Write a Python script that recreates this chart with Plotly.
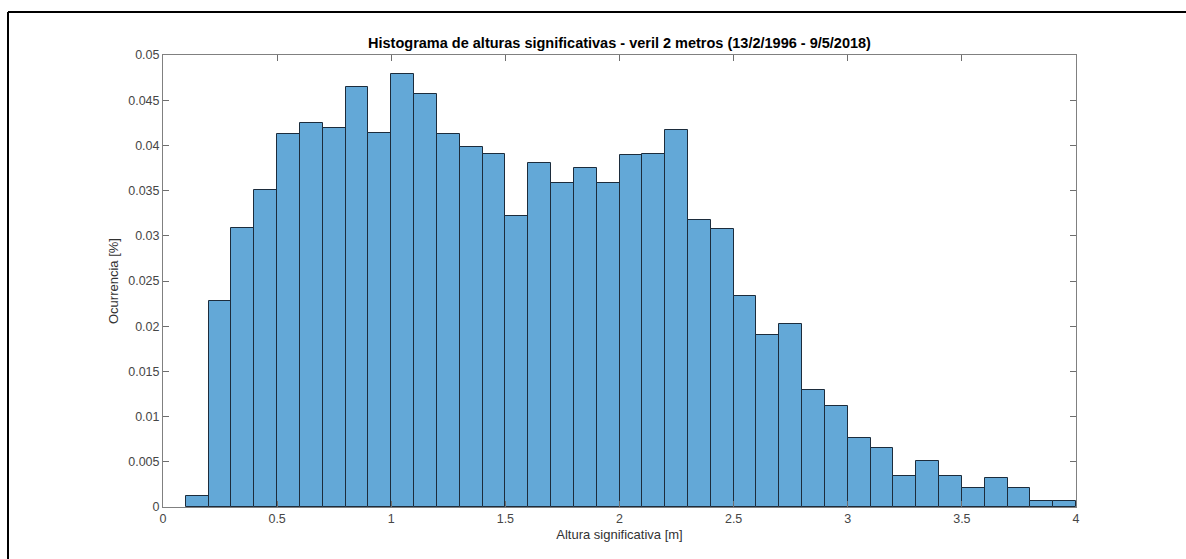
import plotly.graph_objects as go

# Histogram bins (left edges, width 0.1 m) and occurrence values
bin_left = [0.1, 0.2, 0.3, 0.4, 0.5, 0.6, 0.7, 0.8, 0.9, 1.0,
            1.1, 1.2, 1.3, 1.4, 1.5, 1.6, 1.7, 1.8, 1.9, 2.0,
            2.1, 2.2, 2.3, 2.4, 2.5, 2.6, 2.7, 2.8, 2.9, 3.0,
            3.1, 3.2, 3.3, 3.4, 3.5, 3.6, 3.7, 3.8, 3.9]
bin_width = 0.1
occurrence = [0.00118, 0.0228, 0.0309, 0.0351, 0.0413, 0.0425, 0.0419, 0.0465, 0.0414, 0.0479,
              0.0457, 0.0413, 0.0398, 0.0391, 0.0322, 0.0381, 0.0358, 0.0375, 0.0358, 0.0389,
              0.0391, 0.0417, 0.0318, 0.0308, 0.0233, 0.0190, 0.0202, 0.0129, 0.0112, 0.0076,
              0.0065, 0.0034, 0.0051, 0.0034, 0.0021, 0.0032, 0.0021, 0.0007, 0.0007]

x_tickvals = [0, 0.5, 1, 1.5, 2, 2.5, 3, 3.5, 4]
x_ticktext = ["0", "0.5", "1", "1.5", "2", "2.5", "3", "3.5", "4"]
y_tickvals = [0, 0.005, 0.01, 0.015, 0.02, 0.025, 0.03, 0.035, 0.04, 0.045, 0.05]
y_ticktext = ["0", "0.005", "0.01", "0.015", "0.02", "0.025", "0.03", "0.035", "0.04", "0.045", "0.05"]

title_text = "Histograma de alturas significativas - veril 2 metros (13/2/1996 - 9/5/2018)"
x_title = "Altura significativa [m]"
y_title = "Ocurrencia [%]"

FONT = "Liberation Sans, Arial, sans-serif"
centers = [b + bin_width / 2 for b in bin_left]

fig = go.Figure()
fig.add_trace(go.Bar(
    x=centers, y=occurrence, width=bin_width,
    marker=dict(color="rgb(99,168,215)", line=dict(color="rgb(28,44,60)", width=1)),
    showlegend=False, hoverinfo="x+y",
))

axis_common = dict(
    showline=True, linecolor="rgb(128,128,128)", linewidth=1,
    mirror="ticks", ticks="inside", ticklen=6, tickwidth=1, tickcolor="rgb(110,110,110)",
    showgrid=False, zeroline=False,
    tickfont=dict(family=FONT, size=12.5, color="rgb(70,70,70)"),
)

fig.update_layout(
    width=1186, height=559,
    margin=dict(l=163, r=110, t=55, b=52),
    paper_bgcolor="white", plot_bgcolor="white",
    bargap=0,
    title=dict(text="<b>" + title_text + "</b>", x=0.5, xref="paper", xanchor="center",
               y=1, yref="paper", yanchor="bottom", pad=dict(b=7),
               font=dict(family=FONT, size=14.5, color="black")),
    xaxis=dict(range=[0, 4], tickvals=x_tickvals, ticktext=x_ticktext,
               title=dict(text=x_title, standoff=4,
                          font=dict(family=FONT, size=13, color="rgb(50,50,50)")),
               **axis_common),
    yaxis=dict(range=[0, 0.05], tickvals=y_tickvals, ticktext=y_ticktext,
               title=dict(text=y_title, standoff=6,
                          font=dict(family=FONT, size=13, color="rgb(50,50,50)")),
               **axis_common),
    shapes=[
        dict(type="line", xref="paper", yref="paper",
             x0=(8 - 163) / 913, x1=3, y0=(507 - 12) / 452, y1=(507 - 12) / 452,
             line=dict(color="black", width=2), layer="above"),
        dict(type="line", xref="paper", yref="paper",
             x0=(8 - 163) / 913, x1=(8 - 163) / 913, y0=-3, y1=(507 - 12) / 452,
             line=dict(color="black", width=2), layer="above"),
    ],
)

fig.write_html("out.html")
